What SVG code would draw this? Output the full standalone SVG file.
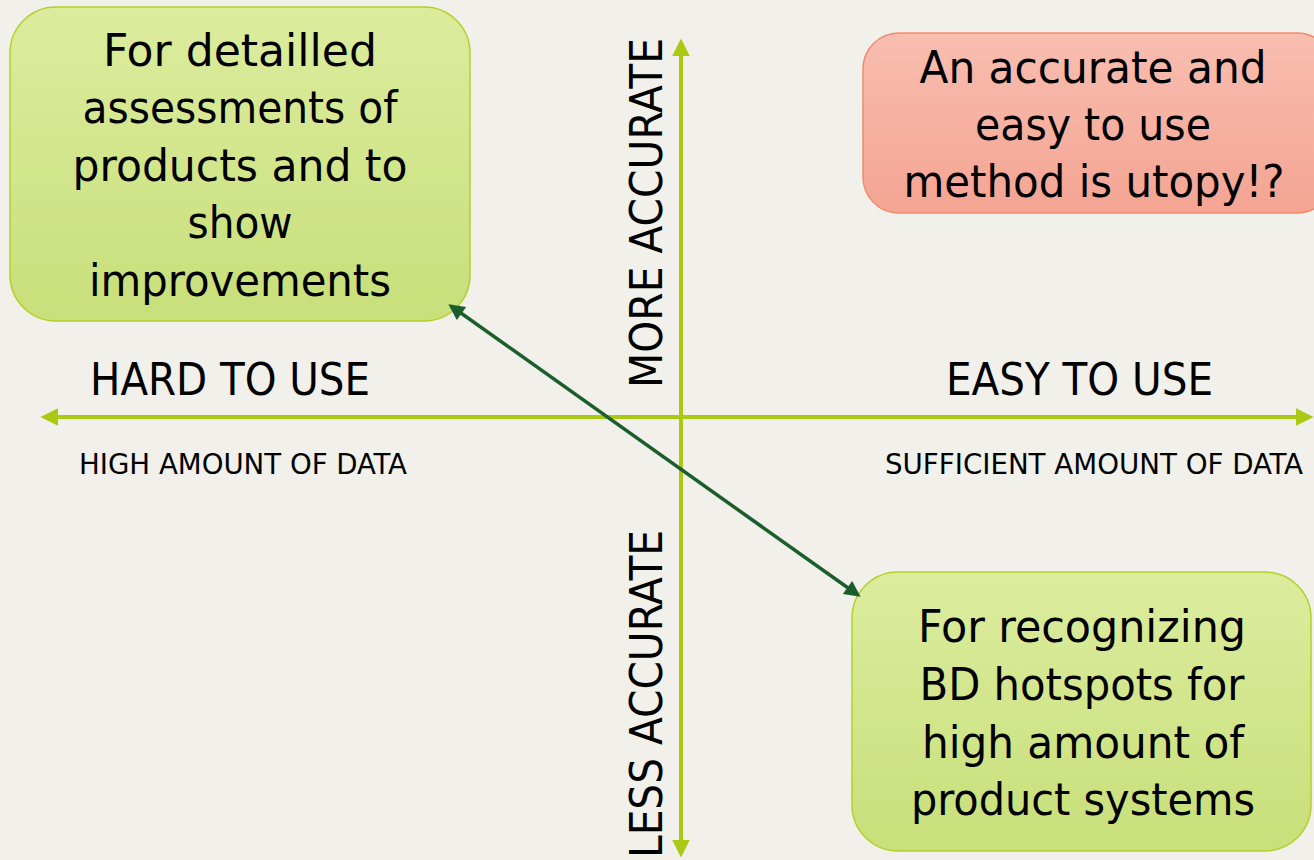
<svg xmlns="http://www.w3.org/2000/svg" width="1314" height="860" viewBox="0 0 1314 860">
<style>
text{font-family:"DejaVu Sans Condensed","DejaVu Sans",sans-serif;fill:#000}
.box{font-size:44px;text-anchor:middle}
.axl{font-size:44px}
.sm{font-size:28px}
.axis{stroke:#a9c912;stroke-width:4;fill:none}
.conn{stroke:#1b5e2b;stroke-width:3.5;fill:none}
</style>
<defs>
<linearGradient id="gGreen" x1="0" y1="0" x2="0" y2="1"><stop offset="0" stop-color="#dcec9e"/><stop offset="1" stop-color="#c8df7a"/></linearGradient>
<linearGradient id="gRed" x1="0" y1="0" x2="0" y2="1"><stop offset="0" stop-color="#f8beb0"/><stop offset="1" stop-color="#f4a493"/></linearGradient>
<marker id="axArrow" viewBox="0 0 10 10" refX="8" refY="5" markerWidth="4.4" markerHeight="4.4" orient="auto-start-reverse" markerUnits="strokeWidth"><path d="M0,0 L10,5 L0,10 z" fill="#a9c912"/></marker>
<marker id="cArrow" viewBox="0 0 10 10" refX="8" refY="5" markerWidth="5" markerHeight="4.6" orient="auto-start-reverse" markerUnits="strokeWidth"><path d="M0,0 L10,5 L0,10 z" fill="#1b5e2b"/></marker>
</defs>
<rect width="1314" height="860" fill="#f1f0ea"/>
<g id="axes">
<line class="axis" x1="44" y1="417" x2="1310" y2="417" marker-start="url(#axArrow)" marker-end="url(#axArrow)"/>
<line class="axis" x1="681" y1="42" x2="681" y2="854" marker-start="url(#axArrow)" marker-end="url(#axArrow)"/>
</g>
<g id="axis-labels">
<text class="axl" x="90" y="395" textLength="280" lengthAdjust="spacingAndGlyphs">HARD TO USE</text>
<text class="axl" x="946" y="395" textLength="267" lengthAdjust="spacingAndGlyphs">EASY TO USE</text>
<text class="sm" x="79" y="474" textLength="328" lengthAdjust="spacingAndGlyphs">HIGH AMOUNT OF DATA</text>
<text class="sm" x="885" y="474" textLength="418" lengthAdjust="spacingAndGlyphs">SUFFICIENT AMOUNT OF DATA</text>
<text class="axl" transform="translate(662,388) rotate(-90)" textLength="350" lengthAdjust="spacingAndGlyphs">MORE ACCURATE</text>
<text class="axl" transform="translate(662,858) rotate(-90)" textLength="328" lengthAdjust="spacingAndGlyphs">LESS ACCURATE</text>
</g>
<g id="node-detailed">
<rect x="10" y="7" width="460" height="314" rx="46" fill="url(#gGreen)" stroke="#b4cf2a" stroke-width="1.5"/>
<text class="box" x="240" y="66" textLength="274" lengthAdjust="spacingAndGlyphs">For detailled</text>
<text class="box" x="240" y="123" textLength="315" lengthAdjust="spacingAndGlyphs">assessments of</text>
<text class="box" x="240" y="181" textLength="335" lengthAdjust="spacingAndGlyphs">products and to</text>
<text class="box" x="240" y="238" textLength="105" lengthAdjust="spacingAndGlyphs">show</text>
<text class="box" x="240" y="296" textLength="302" lengthAdjust="spacingAndGlyphs">improvements</text>
</g>
<g id="node-utopy">
<rect x="863" y="33" width="470" height="180" rx="36" fill="url(#gRed)" stroke="#ef8a6e" stroke-width="1.5"/>
<text class="box" x="1093" y="83" textLength="347" lengthAdjust="spacingAndGlyphs">An accurate and</text>
<text class="box" x="1093" y="140" textLength="236" lengthAdjust="spacingAndGlyphs">easy to use</text>
<text class="box" x="1094" y="197" textLength="381" lengthAdjust="spacingAndGlyphs">method is utopy!?</text>
</g>
<g id="node-hotspots">
<rect x="852" y="572" width="459" height="279" rx="46" fill="url(#gGreen)" stroke="#b4cf2a" stroke-width="1.5"/>
<text class="box" x="1082" y="642" textLength="328" lengthAdjust="spacingAndGlyphs">For recognizing</text>
<text class="box" x="1082" y="700" textLength="325" lengthAdjust="spacingAndGlyphs">BD hotspots for</text>
<text class="box" x="1083" y="758" textLength="322" lengthAdjust="spacingAndGlyphs">high amount of</text>
<text class="box" x="1083" y="815" textLength="344" lengthAdjust="spacingAndGlyphs">product systems</text>
</g>
<g id="connectors">
<line class="conn" x1="451" y1="306" x2="858" y2="595" marker-start="url(#cArrow)" marker-end="url(#cArrow)"/>
</g>
</svg>
